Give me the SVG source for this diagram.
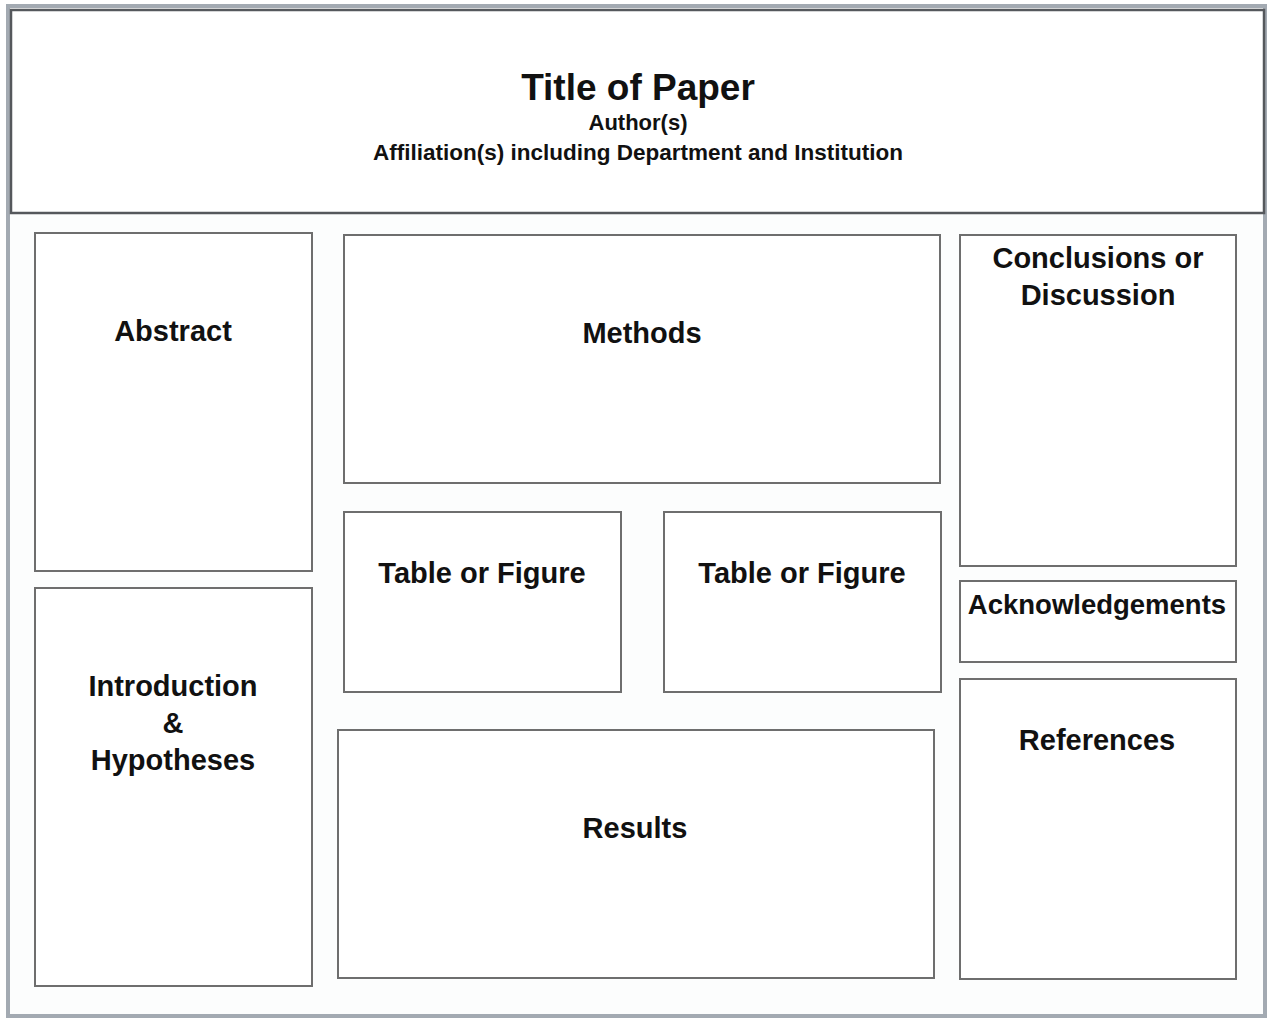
<svg xmlns="http://www.w3.org/2000/svg" width="1268" height="1019" viewBox="0 0 1268 1019">
<style>
.box{fill:#ffffff;stroke:#6e6e6e;stroke-width:2}
.lbl{font-family:"Liberation Sans",Arial,sans-serif;font-weight:bold;font-size:29px;fill:#111;text-anchor:middle}
.hdr{font-family:"Liberation Sans",Arial,sans-serif;font-weight:bold;fill:#111;text-anchor:middle}
.ack{font-size:27.5px}
</style>
<rect x="0" y="0" width="1268" height="1019" fill="#ffffff"/>
<rect x="8" y="6" width="1257" height="1010" fill="#fcfdfd" stroke="#a3aab2" stroke-width="4"/>
<g id="header">
<rect x="11" y="10" width="1253" height="203" fill="#ffffff" stroke="#55585c" stroke-width="2.5"/>
<text class="hdr" x="638" y="100" font-size="37">Title of Paper</text>
<text class="hdr" x="638" y="130" font-size="22">Author(s)</text>
<text class="hdr" x="638" y="160" font-size="22.5">Affiliation(s) including Department and Institution</text>
</g>
<g id="abstract">
<rect class="box" x="35" y="233" width="277" height="338"/>
<text class="lbl" x="173" y="341">Abstract</text>
</g>
<g id="introduction">
<rect class="box" x="35" y="588" width="277" height="398"/>
<text class="lbl" x="173" y="696">Introduction</text>
<text class="lbl" x="173" y="733">&amp;</text>
<text class="lbl" x="173" y="770">Hypotheses</text>
</g>
<g id="methods">
<rect class="box" x="344" y="235" width="596" height="248"/>
<text class="lbl" x="642" y="343">Methods</text>
</g>
<g id="table1">
<rect class="box" x="344" y="512" width="277" height="180"/>
<text class="lbl" x="482" y="583">Table or Figure</text>
</g>
<g id="table2">
<rect class="box" x="664" y="512" width="277" height="180"/>
<text class="lbl" x="802" y="583">Table or Figure</text>
</g>
<g id="results">
<rect class="box" x="338" y="730" width="596" height="248"/>
<text class="lbl" x="635" y="838">Results</text>
</g>
<g id="conclusions">
<rect class="box" x="960" y="235" width="276" height="331"/>
<text class="lbl" x="1098" y="268">Conclusions or</text>
<text class="lbl" x="1098" y="305">Discussion</text>
</g>
<g id="acknowledgements">
<rect class="box" x="960" y="581" width="276" height="81"/>
<text class="lbl ack" x="1097" y="614">Acknowledgements</text>
</g>
<g id="references">
<rect class="box" x="960" y="679" width="276" height="300"/>
<text class="lbl" x="1097" y="750">References</text>
</g>
<g id="connectors"></g>
</svg>
